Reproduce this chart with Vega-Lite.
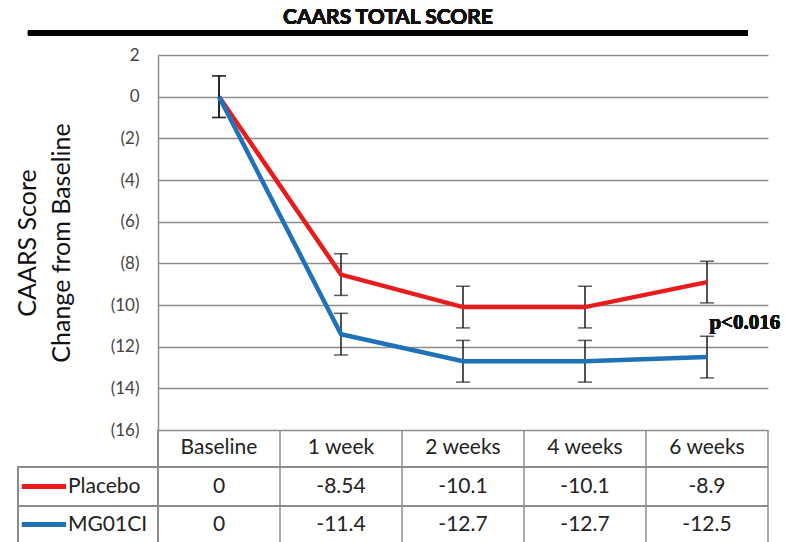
{
  "$schema": "https://vega.github.io/schema/vega-lite/v6.json",
  "autosize": {"type": "none"},
  "width": 610,
  "height": 375,
  "padding": {"left": 158, "top": 55, "right": 17, "bottom": 112},
  "background": "white",
  "config": {"view": {"stroke": null}, "font": "Lato"},
  "data": {"values": [
    {"time": "Baseline", "idx": 0, "group": "Placebo", "value": 0, "lo": -1, "hi": 1},
    {"time": "1 week", "idx": 1, "group": "Placebo", "value": -8.54, "lo": -9.54, "hi": -7.54},
    {"time": "2 weeks", "idx": 2, "group": "Placebo", "value": -10.1, "lo": -11.1, "hi": -9.1},
    {"time": "4 weeks", "idx": 3, "group": "Placebo", "value": -10.1, "lo": -11.1, "hi": -9.1},
    {"time": "6 weeks", "idx": 4, "group": "Placebo", "value": -8.9, "lo": -9.9, "hi": -7.9},
    {"time": "Baseline", "idx": 0, "group": "MG01CI", "value": 0, "lo": -1, "hi": 1},
    {"time": "1 week", "idx": 1, "group": "MG01CI", "value": -11.4, "lo": -12.4, "hi": -10.4},
    {"time": "2 weeks", "idx": 2, "group": "MG01CI", "value": -12.7, "lo": -13.7, "hi": -11.7},
    {"time": "4 weeks", "idx": 3, "group": "MG01CI", "value": -12.7, "lo": -13.7, "hi": -11.7},
    {"time": "6 weeks", "idx": 4, "group": "MG01CI", "value": -12.5, "lo": -13.5, "hi": -11.5}
  ]},
  "layer": [
    {
      "mark": {"type": "rule", "opacity": 0},
      "encoding": {
        "x": {"field": "idx", "type": "quantitative", "scale": {"domain": [-0.5, 4.5], "nice": false, "zero": false}, "axis": null},
        "y": {"field": "value", "type": "quantitative", "scale": {"domain": [-16, 2], "nice": false, "zero": false},
          "axis": {"values": [2, 0, -2, -4, -6, -8, -10, -12, -14, -16], "labelExpr": "datum.value < 0 ? '(' + abs(datum.value) + ')' : datum.value",
            "grid": true, "gridColor": "#8c8c8c", "gridWidth": 1.5, "domainColor": "#8c8c8c", "domainWidth": 1.5, "ticks": false,
            "labelFont": "Lato", "labelFontSize": 17, "labelColor": "#444", "labelPadding": 19,
            "title": ["CAARS Score", "Change from Baseline"], "titleFont": "Lato", "titleFontSize": 25, "titleFontWeight": "normal", "titleColor": "#111", "titleLineHeight": 34, "titlePadding": 36}}
      }
    },
    {
      "mark": {"type": "rule", "color": "#8c8c8c", "strokeWidth": 1.5},
      "encoding": {"x": {"datum": -0.5}, "y": {"datum": -16}, "y2": {"datum": -21.5}}
    },
    {
      "transform": [{"filter": "datum.group == 'Placebo'"}],
      "mark": {"type": "rule", "color": "#8c8c8c", "strokeWidth": 1.5, "xOffset": 61},
      "encoding": {"x": {"field": "idx", "type": "quantitative"}, "y": {"datum": -16}, "y2": {"datum": -21.5}}
    },
    {
      "mark": {"type": "rule", "color": "#8c8c8c", "strokeWidth": 1.5},
      "encoding": {"x": {"datum": -1.648}, "x2": {"datum": 4.5}, "y": {"datum": -17.76}}
    },
    {
      "mark": {"type": "rule", "color": "#8c8c8c", "strokeWidth": 1.5},
      "encoding": {"x": {"datum": -1.648}, "x2": {"datum": 4.5}, "y": {"datum": -19.63}}
    },
    {
      "mark": {"type": "rule", "color": "#8c8c8c", "strokeWidth": 1.5},
      "encoding": {"x": {"datum": -1.648}, "y": {"datum": -17.76}, "y2": {"datum": -21.5}}
    },
    {
      "mark": {"type": "rule", "color": "#000", "strokeWidth": 5},
      "encoding": {"x": {"datum": -1.566}, "x2": {"datum": 4.336}, "y": {"datum": 3.06}}
    },
    {
      "mark": {"type": "text", "text": "CAARS TOTAL SCORE", "font": "Lato", "fontWeight": "bold", "fontSize": 21, "color": "#111", "align": "center", "baseline": "middle"},
      "encoding": {"x": {"datum": 1.385}, "y": {"datum": 3.8}}
    },
    {
      "mark": {"type": "rule", "color": "#1a1a1a", "strokeWidth": 1.5},
      "encoding": {"x": {"field": "idx", "type": "quantitative"}, "y": {"field": "lo", "type": "quantitative"}, "y2": {"field": "hi"}}
    },
    {
      "mark": {"type": "tick", "orient": "horizontal", "color": "#1a1a1a", "size": 14, "thickness": 1.5},
      "encoding": {"x": {"field": "idx", "type": "quantitative"}, "y": {"field": "lo", "type": "quantitative"}}
    },
    {
      "mark": {"type": "tick", "orient": "horizontal", "color": "#1a1a1a", "size": 14, "thickness": 1.5},
      "encoding": {"x": {"field": "idx", "type": "quantitative"}, "y": {"field": "hi", "type": "quantitative"}}
    },
    {
      "transform": [{"filter": "datum.group == 'Placebo'"}],
      "mark": {"type": "line", "color": "#e81c1c", "strokeWidth": 4.5},
      "encoding": {"x": {"field": "idx", "type": "quantitative"}, "y": {"field": "value", "type": "quantitative"}}
    },
    {
      "transform": [{"filter": "datum.group == 'MG01CI'"}],
      "mark": {"type": "line", "color": "#1f72b8", "strokeWidth": 4.5},
      "encoding": {"x": {"field": "idx", "type": "quantitative"}, "y": {"field": "value", "type": "quantitative"}}
    },
    {
      "mark": {"type": "text", "text": "p<0.016", "font": "Liberation Serif", "fontWeight": "bold", "fontSize": 21, "align": "left", "baseline": "middle", "color": "#111"},
      "encoding": {"x": {"datum": 4.02}, "y": {"datum": -10.85}}
    },
    {
      "transform": [{"filter": "datum.group == 'Placebo'"}],
      "mark": {"type": "text", "font": "Lato", "fontSize": 21, "color": "#222", "baseline": "middle"},
      "encoding": {"x": {"field": "idx", "type": "quantitative"}, "y": {"datum": -16.85}, "text": {"field": "time", "type": "nominal"}}
    },
    {
      "transform": [{"filter": "datum.group == 'Placebo'"}],
      "mark": {"type": "text", "font": "Lato", "fontSize": 21, "color": "#222", "baseline": "middle"},
      "encoding": {"x": {"field": "idx", "type": "quantitative"}, "y": {"datum": -18.72}, "text": {"field": "value", "type": "nominal"}}
    },
    {
      "transform": [{"filter": "datum.group == 'MG01CI'"}],
      "mark": {"type": "text", "font": "Lato", "fontSize": 21, "color": "#222", "baseline": "middle"},
      "encoding": {"x": {"field": "idx", "type": "quantitative"}, "y": {"datum": -20.55}, "text": {"field": "value", "type": "nominal"}}
    },
    {
      "transform": [{"filter": "datum.group == 'Placebo' && datum.idx == 0"}],
      "mark": {"type": "text", "font": "Lato", "fontSize": 21, "color": "#222", "baseline": "middle", "align": "left"},
      "encoding": {"x": {"datum": -1.238}, "y": {"datum": -18.72}, "text": {"field": "group", "type": "nominal"}}
    },
    {
      "transform": [{"filter": "datum.group == 'MG01CI' && datum.idx == 0"}],
      "mark": {"type": "text", "font": "Lato", "fontSize": 21, "color": "#222", "baseline": "middle", "align": "left"},
      "encoding": {"x": {"datum": -1.238}, "y": {"datum": -20.55}, "text": {"field": "group", "type": "nominal"}}
    },
    {
      "mark": {"type": "rule", "color": "#e81c1c", "strokeWidth": 4.5},
      "encoding": {"x": {"datum": -1.615}, "x2": {"datum": -1.254}, "y": {"datum": -18.72}}
    },
    {
      "mark": {"type": "rule", "color": "#1f72b8", "strokeWidth": 4.5},
      "encoding": {"x": {"datum": -1.615}, "x2": {"datum": -1.254}, "y": {"datum": -20.55}}
    }
  ]
}
